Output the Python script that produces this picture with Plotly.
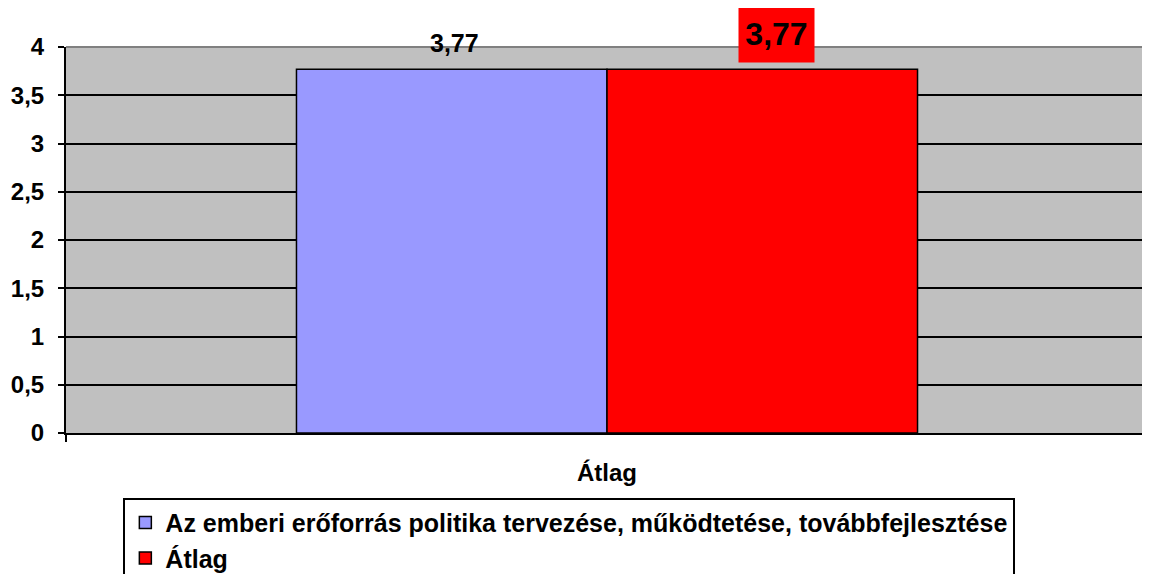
import plotly.graph_objects as go

categories = ["Átlag"]
series_names = ["Az emberi erőforrás politika tervezése, működtetése, továbbfejlesztése", "Átlag"]
series_values = [[3.77], [3.77]]
series_labels = ["3,77", "3,77"]
series_colors = ["#9999FF", "#FF0000"]
y_tickvals = [0, 0.5, 1, 1.5, 2, 2.5, 3, 3.5, 4]
y_ticktext = ["0", "0,5", "1", "1,5", "2", "2,5", "3", "3,5", "4"]

FONT = "Liberation Sans, Arial, sans-serif"

fig = go.Figure()
for name, vals, col in zip(series_names, series_values, series_colors):
    fig.add_trace(go.Bar(
        x=categories, y=vals, name="<b>" + name + "</b>",
        marker=dict(color=col, line=dict(color="black", width=1.5)),
    ))

# value labels
fig.add_annotation(
    x=categories[0], y=series_values[0][0], xref="x", yref="y",
    text="<b>" + series_labels[0] + "</b>", showarrow=False,
    xshift=-153, yshift=26,
    font=dict(family=FONT, size=25, color="black"),
)
fig.add_annotation(
    x=categories[0], y=series_values[1][0], xref="x", yref="y",
    text="<b>" + series_labels[1] + "</b>", showarrow=False,
    xshift=169, yshift=35, width=73, height=54, bgcolor="#FF0000",
    font=dict(family=FONT, size=32, color="black"),
)

# grey top border of the plot area
fig.add_shape(type="line", xref="paper", yref="paper", x0=0, x1=1, y0=1, y1=1,
              line=dict(color="#808080", width=2))

# page body has an 8px margin, so the figure is offset by 8px
fig.update_layout(
    width=1142, height=566,
    margin=dict(l=58, r=2, t=39, b=141, autoexpand=False),
    paper_bgcolor="white", plot_bgcolor="#C0C0C0",
    barmode="group", bargap=0.426, bargroupgap=0,
    font=dict(family=FONT, size=24, color="black"),
    showlegend=True,
    legend=dict(
        orientation="v", x=0.053, xanchor="left", y=-0.168, yanchor="top",
        bordercolor="black", borderwidth=2, bgcolor="white",
        font=dict(family=FONT, size=25, color="black"),
        tracegroupgap=0,
    ),
    xaxis=dict(
        tickvals=categories, ticktext=["<b>" + c + "</b>" for c in categories],
        showgrid=False, showline=True, linecolor="black", linewidth=2,
        ticks="outside", tickson="boundaries", ticklen=7, tickwidth=2, tickcolor="black",
        tickfont=dict(family=FONT, size=24), ticklabelstandoff=17,
        automargin=False,
    ),
    yaxis=dict(
        range=[0, 4], tickvals=y_tickvals, ticktext=["<b>" + t + "</b>" for t in y_ticktext],
        showgrid=True, gridcolor="black", gridwidth=2,
        showline=True, linecolor="black", linewidth=2, zeroline=False,
        ticks="outside", ticklen=6, tickwidth=2, tickcolor="black",
        tickfont=dict(family=FONT, size=24), ticklabelstandoff=9,
        automargin=False,
    ),
)

fig.write_html("out.html")
